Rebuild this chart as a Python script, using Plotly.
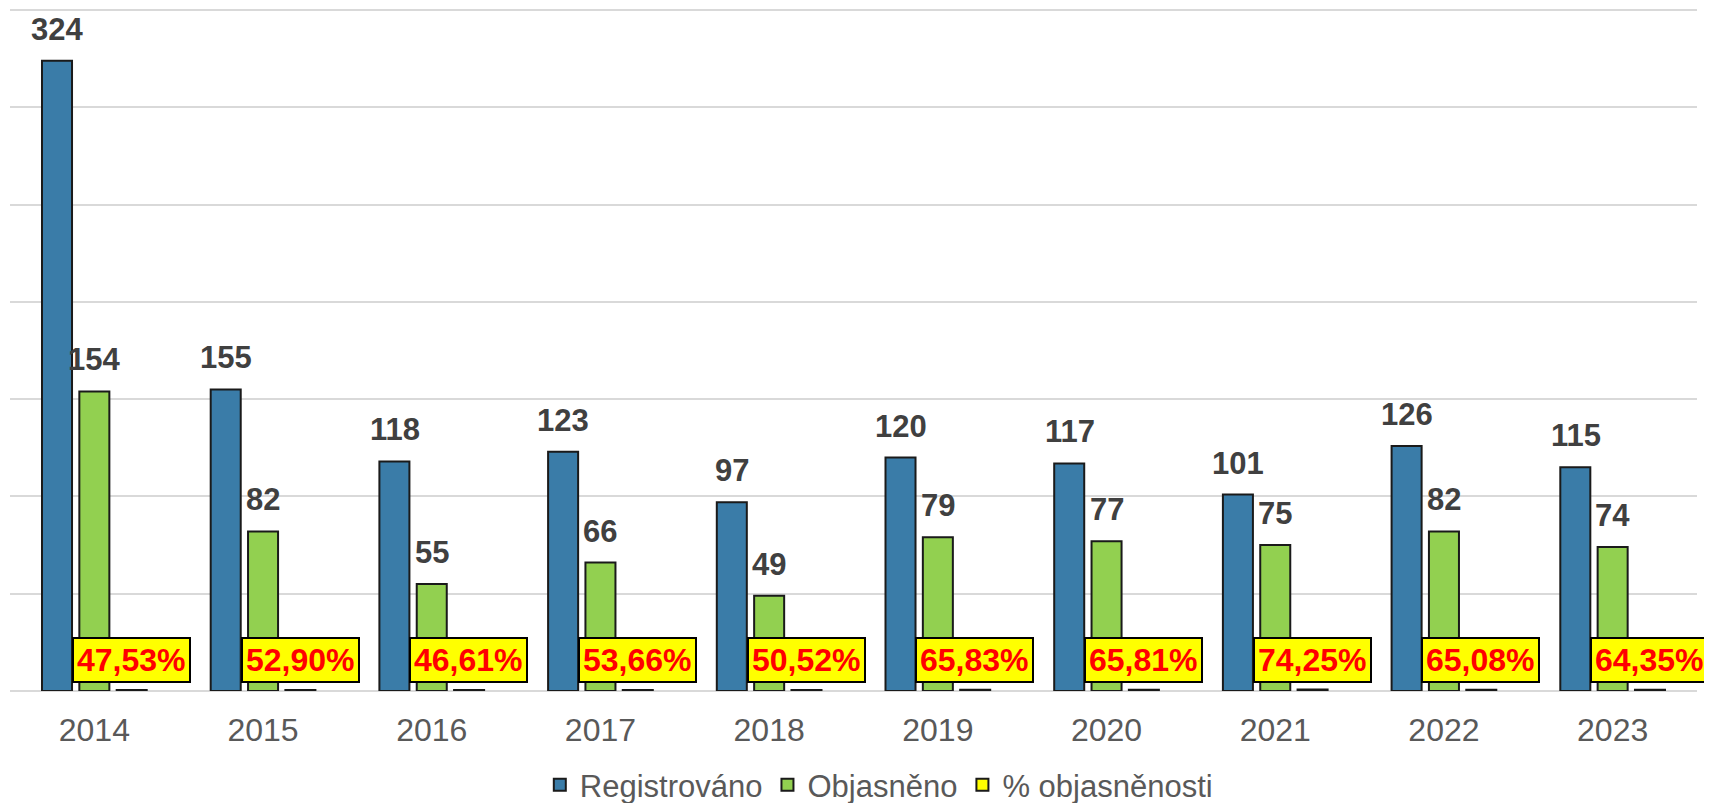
import plotly.graph_objects as go

years = ["2014", "2015", "2016", "2017", "2018", "2019", "2020", "2021", "2022", "2023"]
registrovano = [324, 155, 118, 123, 97, 120, 117, 101, 126, 115]
objasneno = [154, 82, 55, 66, 49, 79, 77, 75, 82, 74]
pct = [0.4753, 0.5290, 0.4661, 0.5366, 0.5052, 0.6583, 0.6581, 0.7425, 0.6508, 0.6435]
pct_labels = ["47,53%", "52,90%", "46,61%", "53,66%", "50,52%", "65,83%", "65,81%", "74,25%", "65,08%", "64,35%"]

FONT = "Liberation Sans, Arial, sans-serif"
BLUE = "#3A7CA8"
GREEN = "#92D050"
YELLOW = "#FFFF00"
EDGE = "#1A1A1A"
SLOT = 37

fig = go.Figure()
fig.add_bar(x=years, y=registrovano, name="Registrováno",
            marker=dict(color=BLUE, line=dict(color=EDGE, width=2)))
fig.add_bar(x=years, y=objasneno, name="Objasněno",
            marker=dict(color=GREEN, line=dict(color=EDGE, width=2)))
fig.add_bar(x=years, y=pct, name="% objasněnosti",
            marker=dict(color=YELLOW, line=dict(color=EDGE, width=2)))

annotations = []
for i, v in enumerate(registrovano):
    annotations.append(dict(x=i, y=v, text=str(v), showarrow=False, xshift=-SLOT,
                            yanchor="bottom", yshift=12,
                            font=dict(family=FONT, size=31, color="#404040", weight="bold")))
for i, v in enumerate(objasneno):
    annotations.append(dict(x=i, y=v, text=str(v), showarrow=False, xshift=0,
                            yanchor="bottom", yshift=12,
                            font=dict(family=FONT, size=31, color="#404040", weight="bold")))
for i, (v, lab) in enumerate(zip(pct, pct_labels)):
    annotations.append(dict(x=i, y=v, text=lab, showarrow=False, xshift=SLOT,
                            yanchor="bottom", yshift=7,
                            bgcolor=YELLOW, bordercolor="#000000", borderwidth=2, borderpad=3,
                            font=dict(family=FONT, size=32, color="#FF0000", weight="bold")))

# page body has an 8px margin: figure is sized/offset so the page content matches 1712x803
fig.update_layout(
    width=1704, height=795,
    margin=dict(l=2, r=15, t=1, b=112, autoexpand=False),
    paper_bgcolor="white", plot_bgcolor="white",
    barmode="group", bargap=0.336, bargroupgap=0.196,
    font=dict(family=FONT, color="#595959"),
    annotations=annotations,
    showlegend=True,
    legend=dict(orientation="h", x=0.515, xanchor="center", y=-0.138, yanchor="middle",
                font=dict(family=FONT, size=31, color="#595959"),
                itemsizing="constant", traceorder="normal"),
    xaxis=dict(type="category", categoryorder="array", categoryarray=years,
               range=[-0.5, len(years) - 0.5],
               showgrid=False, showline=False, ticks="",
               tickfont=dict(family=FONT, size=32, color="#595959"),
               ticklabelstandoff=17),
    yaxis=dict(range=[0, 350.6], tickvals=[0, 50, 100, 150, 200, 250, 300, 350],
               showticklabels=False, showgrid=True,
               gridcolor="#D9D9D9", gridwidth=1.5, zeroline=True,
               zerolinecolor="#D9D9D9", zerolinewidth=1.5, showline=False),
)

fig.write_html("out.html")
